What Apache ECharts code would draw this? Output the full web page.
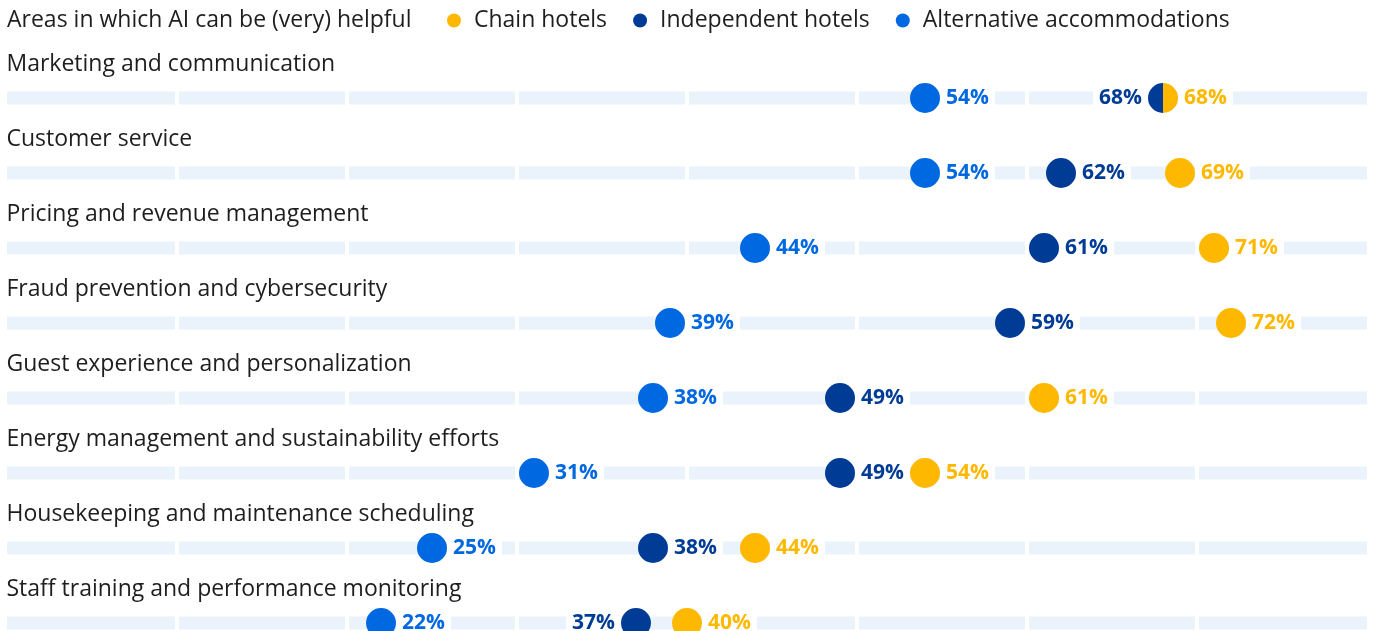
<!DOCTYPE html>
<html>
<head>
<meta charset="utf-8">
<script src="https://cdn.jsdelivr.net/npm/echarts@6/dist/echarts.min.js"></script>
<style>
  html, body { margin: 0; padding: 0; background: #fff; }
  #chart { width: 1375px; height: 631px; }
</style>
</head>
<body>
<div id="chart"></div>
<script>
const categories = [
  "Marketing and communication",
  "Customer service",
  "Pricing and revenue management",
  "Fraud prevention and cybersecurity",
  "Guest experience and personalization",
  "Energy management and sustainability efforts",
  "Housekeeping and maintenance scheduling",
  "Staff training and performance monitoring",
];
const chainHotels = [68, 69, 71, 72, 61, 54, 44, 40];
const independentHotels = [68, 62, 61, 59, 49, 49, 38, 37];
const alternativeAccommodations = [54, 54, 44, 39, 38, 31, 25, 22];
const trackTicks = [0, 10, 20, 30, 40, 50, 60, 70, 80];

const FONT = "Open Sans";
const TEXT = "#1e1e1e";
const CHAIN = "#ffb800";
const INDEP = "#003c96";
const ALT = "#0068e0";
const TRACK = "#eaf3fc";

// half circles for when two groups share the same value
const LEFT_HALF = "path://M50,0 A50,50 0 0 0 50,100 Z";
const RIGHT_HALF = "path://M0,0 A50,50 0 0 1 0,100 Z";

function valueLabel(color, position) {
  return {
    show: true,
    position: position,
    distance: 0,
    formatter: (p) => p.value[0] + "%",
    color: color,
    fontFamily: FONT,
    fontWeight: "bold",
    fontSize: 21,
    backgroundColor: "#fff",
    padding: [4, 6, 4, 6],
  };
}

const chainData = chainHotels.map((v, i) => {
  const item = { value: [v, i] };
  if (independentHotels[i] === v) {
    item.symbol = RIGHT_HALF;
    item.symbolSize = [15, 30];
    item.symbolOffset = [7.5, 0];
  }
  return item;
});

const indepData = independentHotels.map((v, i) => {
  const item = { value: [v, i] };
  if (chainHotels[i] === v) {
    item.symbol = LEFT_HALF;
    item.symbolSize = [15, 30];
    item.symbolOffset = [-7.5, 0];
  }
  // labels go left where the next dot is too close
  if (chainHotels[i] - v < 5) {
    item.label = { position: "left" };
  }
  return item;
});

const option = {
  animation: false,
  title: {
    text: "Areas in which AI can be (very) helpful",
    left: 7,
    top: 9,
    padding: 0,
    textStyle: { fontFamily: FONT, fontSize: 23, fontWeight: "normal", color: TEXT },
  },
  legend: {
    left: 447,
    top: 9,
    padding: 0,
    icon: "circle",
    itemWidth: 14,
    itemHeight: 14,
    itemGap: 26,
    data: ["Chain hotels", "Independent hotels", "Alternative accommodations"],
    textStyle: { fontFamily: FONT, fontSize: 23, color: TEXT, padding: [0, 0, 0, 8] },
  },
  grid: { left: 7, right: 8, top: 60.5, height: 600, outerBoundsMode: "none" },
  xAxis: { type: "value", min: 0, max: 80, show: false },
  yAxis: {
    type: "category",
    data: categories,
    inverse: true,
    show: false,
  },
  series: [
    {
      type: "custom",
      name: "track",
      silent: true,
      encode: { x: 0, y: 1 },
      data: categories.map((c, i) => [0, i]),
      renderItem(params, api) {
        const row = api.value(1);
        const last = trackTicks.length - 2;
        const children = [];
        for (let k = 0; k <= last; k++) {
          const a = api.coord([trackTicks[k], row]);
          const b = api.coord([trackTicks[k + 1], row]);
          const x0 = a[0] + (k > 0 ? 2 : 0);
          const x1 = b[0] - (k < last ? 2 : 0);
          children.push({
            type: "rect",
            shape: { x: x0, y: a[1] - 6.5, width: x1 - x0, height: 13 },
            style: { fill: TRACK },
          });
        }
        return { type: "group", children };
      },
    },
    {
      // category names sit above each track
      type: "scatter",
      name: "rowLabels",
      silent: true,
      symbolSize: 1,
      itemStyle: { color: "rgba(0,0,0,0)", opacity: 1 },
      label: {
        show: true,
        position: [0, -33],
        align: "left",
        verticalAlign: "middle",
        formatter: (p) => categories[p.value[1]],
        fontFamily: FONT,
        fontSize: 23,
        color: TEXT,
      },
      data: categories.map((c, i) => [0, i]),
    },
    {
      type: "scatter",
      name: "Alternative accommodations",
      symbolSize: 30,
      itemStyle: { color: ALT, opacity: 1 },
      label: valueLabel(ALT, "right"),
      emphasis: { disabled: true },
      data: alternativeAccommodations.map((v, i) => [v, i]),
    },
    {
      type: "scatter",
      name: "Independent hotels",
      symbolSize: 30,
      itemStyle: { color: INDEP, opacity: 1 },
      label: valueLabel(INDEP, "right"),
      emphasis: { disabled: true },
      data: indepData,
    },
    {
      type: "scatter",
      name: "Chain hotels",
      z: 3,
      symbolSize: 30,
      itemStyle: { color: CHAIN, opacity: 1 },
      label: valueLabel(CHAIN, "right"),
      emphasis: { disabled: true },
      data: chainData,
    },
  ],
};

echarts.init(document.getElementById("chart")).setOption(option);
</script>
</body>
</html>
